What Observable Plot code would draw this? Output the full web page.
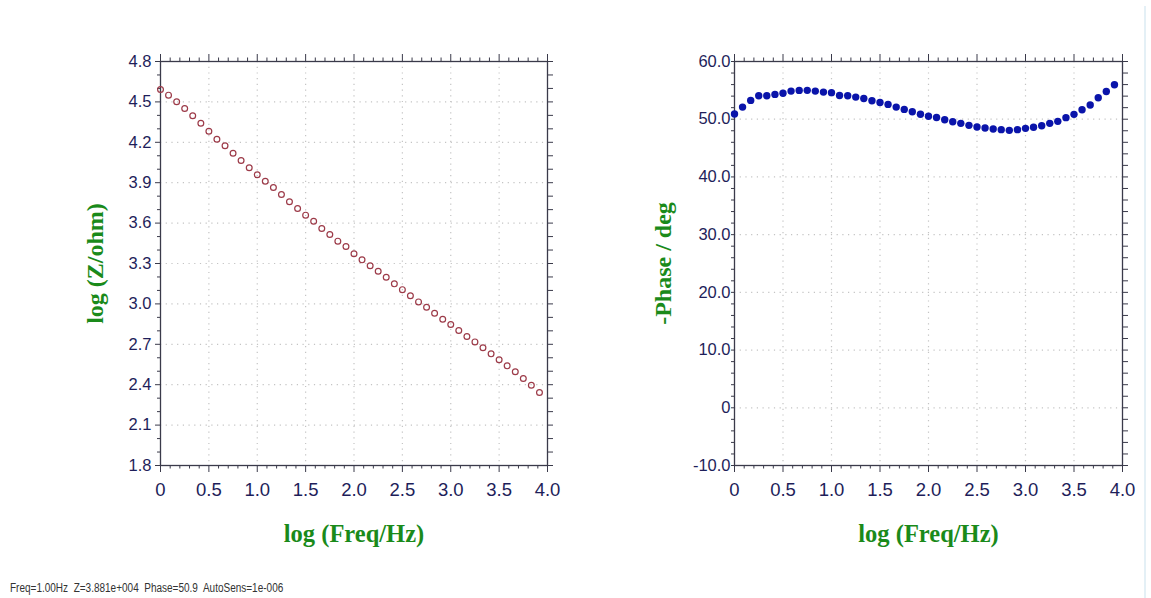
<!DOCTYPE html>
<html>
<head>
<meta charset="utf-8">
<script src="https://cdn.jsdelivr.net/npm/d3@7"></script>
<script src="https://cdn.jsdelivr.net/npm/@observablehq/plot@0.6"></script>
<style>
  html, body { margin: 0; padding: 0; background: #fff; }
  #wrap { position: relative; width: 1151px; height: 598px; overflow: hidden; }
  #left { position: absolute; left: 0; top: 0; }
  #right { position: absolute; left: 575px; top: 0; }
  #caption { position: absolute; left: 10px; top: 581px; font: 12.5px "Liberation Sans", Arial, sans-serif; color: #333; transform: scaleX(0.8); transform-origin: left center; white-space: nowrap; }
  #edge { position: absolute; left: 1144px; top: 6px; width: 2px; height: 592px; background: #e4f0f6; }
</style>
</head>
<body>
<div id="wrap">
  <div id="left"></div>
  <div id="right"></div>
  <div id="edge"></div>
  <div id="caption">Freq=1.00Hz&nbsp; Z=3.881e+004&nbsp; Phase=50.9&nbsp; AutoSens=1e-006</div>
</div>
<script>
// ---- data ----
const logFreq = [0, 0.083, 0.167, 0.25, 0.333, 0.417, 0.5, 0.583, 0.667, 0.75, 0.833, 0.917,
  1.0, 1.083, 1.167, 1.25, 1.333, 1.417, 1.5, 1.583, 1.667, 1.75, 1.833, 1.917,
  2.0, 2.083, 2.167, 2.25, 2.333, 2.417, 2.5, 2.583, 2.667, 2.75, 2.833, 2.917,
  3.0, 3.083, 3.167, 3.25, 3.333, 3.417, 3.5, 3.583, 3.667, 3.75, 3.833, 3.917];
const logZ = [4.592, 4.55, 4.501, 4.451, 4.397, 4.342, 4.282, 4.223, 4.174, 4.119, 4.065, 4.011,
  3.959, 3.911, 3.864, 3.812, 3.758, 3.708, 3.659, 3.614, 3.560, 3.515, 3.466, 3.426,
  3.372, 3.327, 3.283, 3.243, 3.198, 3.149, 3.106, 3.060, 3.015, 2.975, 2.931, 2.886,
  2.847, 2.802, 2.758, 2.718, 2.674, 2.629, 2.585, 2.540, 2.496, 2.446, 2.396, 2.342];
const phase = [50.9, 52.1, 53.26, 54.07, 54.07, 54.3, 54.5, 54.87, 54.99, 55.0, 54.87, 54.7,
  54.6, 54.12, 54.07, 53.83, 53.6, 53.2, 52.9, 52.57, 52.1, 51.7, 51.3, 50.87,
  50.52, 50.3, 49.9, 49.57, 49.28, 48.94, 48.65, 48.47, 48.3, 48.19, 48.07, 48.19,
  48.42, 48.6, 48.88, 49.28, 49.63, 50.27, 50.84, 51.65, 52.45, 53.72, 54.8, 55.97];

const xMajor = [0, 0.5, 1.0, 1.5, 2.0, 2.5, 3.0, 3.5, 4.0];
const xLabels = ["0", "0.5", "1.0", "1.5", "2.0", "2.5", "3.0", "3.5", "4.0"];
const xMinor = [0.1,0.2,0.3,0.4,0.6,0.7,0.8,0.9,1.1,1.2,1.3,1.4,1.6,1.7,1.8,1.9,2.1,2.2,2.3,2.4,2.6,2.7,2.8,2.9,3.1,3.2,3.3,3.4,3.6,3.7,3.8,3.9];

const zMajor = [1.8, 2.1, 2.4, 2.7, 3.0, 3.3, 3.6, 3.9, 4.2, 4.5, 4.8];
const zLabels = ["1.8", "2.1", "2.4", "2.7", "3.0", "3.3", "3.6", "3.9", "4.2", "4.5", "4.8"];
const zMinor = [1.9,2.0,2.2,2.3,2.5,2.6,2.8,2.9,3.1,3.2,3.4,3.5,3.7,3.8,4.0,4.1,4.3,4.4,4.6,4.7];

const pMajor = [-10, 0, 10, 20, 30, 40, 50, 60];
const pLabels = ["-10.0", "0", "10.0", "20.0", "30.0", "40.0", "50.0", "60.0"];
const pMinor = [-8,-6,-4,-2,2,4,6,8,12,14,16,18,22,24,26,28,32,34,36,38,42,44,46,48,52,54,56,58];

const zRows = logFreq.map((f, i) => ({f, v: logZ[i]}));
const pRows = logFreq.map((f, i) => ({f, v: phase[i]}));

const tickColor = "#1e1e5a";
const axisColor = "#3a3a4a";
const green = "#1a8a1a";
const serif = "'Liberation Serif', 'Times New Roman', serif";

function panel(opts) {
  const {yDomain, yMajor, yLabels, yMinor, rows, yLabel, marginLeft, yTickSize, yPad, yLabelX, dotMark} = opts;
  const fmtX = d => xLabels[xMajor.indexOf(d)] ?? "";
  const fmtY = d => yLabels[yMajor.indexOf(d)] ?? "";
  const blank = () => "";
  const svg = Plot.plot({
    width: 575,
    height: 575,
    marginLeft,
    marginRight: 28,
    marginTop: 61,
    marginBottom: 110,
    style: {fontFamily: "'Liberation Sans', Arial, sans-serif", fontSize: "16px", color: tickColor, background: "#fff", overflow: "visible"},
    x: {domain: [0, 4]},
    y: {domain: yDomain},
    marks: [
      Plot.gridX(xMajor.slice(1, -1), {stroke: "#c4c4c4", strokeOpacity: 1, strokeDasharray: "1.2,4.5", strokeWidth: 1.2}),
      Plot.gridY(yMajor.slice(1, -1), {stroke: "#c4c4c4", strokeOpacity: 1, strokeDasharray: "1.2,4.5", strokeWidth: 1.2}),
      // bottom axis
      Plot.axisX(xMajor, {anchor: "bottom", tickSize: 7, tickPadding: 10, tickFormat: fmtX, label: null, stroke: axisColor, fill: tickColor, fontSize: 18.5, ariaLabel: "xlab"}),
      Plot.axisX(xMinor, {anchor: "bottom", tickSize: 3.5, tickFormat: blank, label: null, stroke: axisColor}),
      // top axis
      Plot.axisX(xMajor, {anchor: "top", tickSize: 8, tickFormat: blank, label: null, stroke: axisColor}),
      Plot.axisX(xMinor, {anchor: "top", tickSize: 4.5, tickFormat: blank, label: null, stroke: axisColor}),
      // left axis
      Plot.axisY(yMajor, {anchor: "left", tickSize: yTickSize, tickPadding: yPad, tickFormat: fmtY, label: null, stroke: axisColor, fill: tickColor, fontSize: 16.5}),
      Plot.axisY(yMinor, {anchor: "left", tickSize: 3, tickFormat: blank, label: null, stroke: axisColor}),
      // right axis
      Plot.axisY(yMajor, {anchor: "right", tickSize: 5, tickFormat: blank, label: null, stroke: axisColor}),
      Plot.axisY(yMinor, {anchor: "right", tickSize: 5, tickFormat: blank, label: null, stroke: axisColor}),
      Plot.frame({stroke: axisColor, strokeWidth: 1.3}),
      dotMark(rows),
      Plot.text(["log (Freq/Hz)"], {frameAnchor: "bottom", dy: 76, fontFamily: serif, fontWeight: "bold", fontSize: 24.5, fill: green}),
      Plot.text([yLabel], {frameAnchor: "left", textAnchor: "middle", dx: yLabelX - marginLeft, rotate: -90, fontFamily: serif, fontWeight: "bold", fontSize: 24, fill: green, ariaLabel: "ylab"})
    ]
  });
  // condensed look of the x tick labels
  svg.querySelectorAll('[aria-label="xlab"] text').forEach(t => {
    const tr = t.getAttribute("transform");
    if (tr) t.setAttribute("transform", tr + " scale(0.8,1)");
  });
  // stretched y axis title
  svg.querySelectorAll('[aria-label="ylab"] text').forEach(t => {
    t.setAttribute("textLength", 148);
    t.setAttribute("lengthAdjust", "spacingAndGlyphs");
  });
  return svg;
}

document.getElementById("left").append(panel({
  yDomain: [1.8, 4.8], yMajor: zMajor, yLabels: zLabels, yMinor: zMinor, rows: zRows,
  yLabel: "log (Z/ohm)", marginLeft: 160, yTickSize: 5, yPad: 4, yLabelX: 95,
  dotMark: rows => Plot.dot(rows, {x: "f", y: "v", r: 2.9, stroke: "#9c3a48", strokeWidth: 1.2, fill: "none"})
}));

document.getElementById("right").append(panel({
  yDomain: [-10, 60], yMajor: pMajor, yLabels: pLabels, yMinor: pMinor, rows: pRows,
  yLabel: "-Phase / deg", marginLeft: 159, yTickSize: 3, yPad: 1, yLabelX: 88,
  dotMark: rows => Plot.dot(rows, {x: "f", y: "v", r: 3.7, fill: "#0a14aa", stroke: "none"})
}));
</script>
</body>
</html>
